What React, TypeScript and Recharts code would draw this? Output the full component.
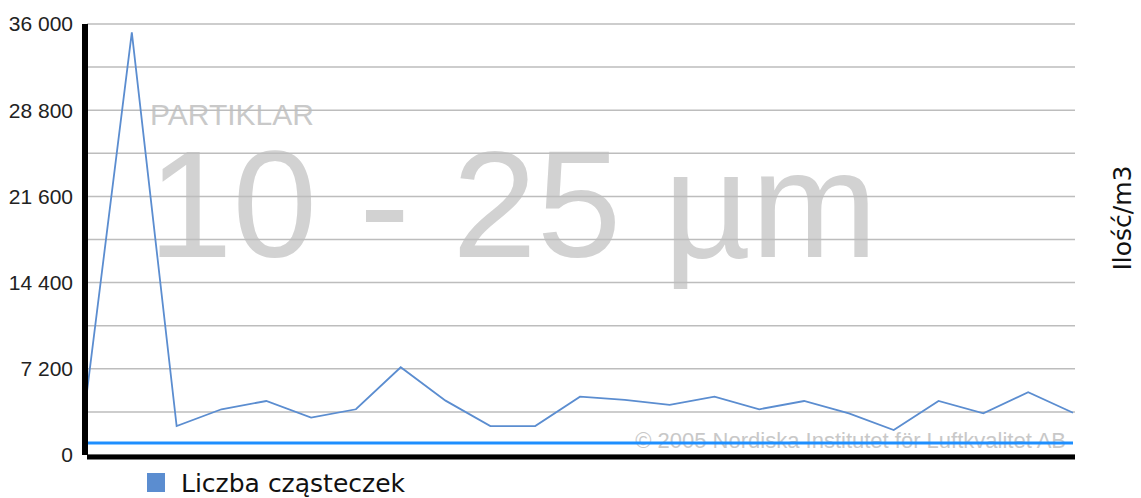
import React from 'react';
import { LineChart, Line, XAxis, YAxis, CartesianGrid, ReferenceLine } from 'recharts';

const categories = ['1', '2', '3', '4', '5', '6', '7', '8', '9', '10', '11', '12', '13', '14', '15', '16', '17', '18', '19', '20', '21', '22', '23'];
const counts = [5300, 35300, 2420, 3820, 4510, 3120, 3820, 7330, 4540, 2420, 2420, 4870, 4600, 4180, 4870, 3820, 4510, 3480, 2090, 4510, 3480, 5240, 3530];
const thresholdValue = 1000;
const yTicks = [0, 3600, 7200, 10800, 14400, 18000, 21600, 25200, 28800, 32400, 36000];
const labelStep = 7200;
const seriesName = 'Liczba cząsteczek';
const unitLabel = 'Ilość/m3';
const watermarkTitle = 'PARTIKLAR';
const watermarkRange = '10 - 25 µm';
const copyrightText = '© 2005 Nordiska Institutet för Luftkvalitet AB';

const data = categories.map((c, i) => ({ cat: c, count: counts[i] }));

const LINE_COLOR = '#5b8dd0';
const fmt = (v: number) => (v % labelStep === 0 ? String(v).replace(/\B(?=(\d{3})+(?!\d))/g, ' ') : '');

export default function App() {
  return (
    <div style={{ position: 'absolute', left: 0, top: 0, width: 1141, height: 498, background: '#fff' }}>
      <svg width={1141} height={498} style={{ position: 'absolute', left: 0, top: 0 }}>
        <text x={150} y={125} fontSize={30} fontFamily="Liberation Sans, Arial, sans-serif" fill="#c9c9c9">
          {watermarkTitle}
        </text>
        <text x={148} y={257} fontSize={152} fontFamily="Liberation Sans, Arial, sans-serif" fill="#d2d2d2">
          {watermarkRange}
        </text>
        <text x={1066} y={448} fontSize={22} textAnchor="end" fontFamily="Liberation Sans, Arial, sans-serif" fill="#c8c8c8">
          {copyrightText}
        </text>
      </svg>
      <div style={{ position: 'absolute', left: 0, top: 0 }}>
        <LineChart width={1141} height={498} data={data} margin={{ top: 24, right: 66, bottom: 38, left: 0 }}>
          <CartesianGrid vertical={false} stroke="#bdbdbd" strokeWidth={1.5} />
          <XAxis
            dataKey="cat"
            padding={{ left: 0, right: 2 }}
            tick={false}
            tickLine={false}
            height={5}
            axisLine={{ stroke: '#000', strokeWidth: 5, transform: 'translate(0,2)' }}
          />
          <YAxis
            domain={[0, 36000]}
            ticks={yTicks}
            interval={0}
            width={87}
            tickSize={0}
            tickMargin={14}
            tickLine={false}
            axisLine={{ stroke: '#000', strokeWidth: 6, transform: 'translate(-2,0)' }}
            tickFormatter={fmt}
            tick={{ fill: '#222', fontSize: 21, fontFamily: 'Liberation Sans, Arial, sans-serif' }}
          />
          <ReferenceLine
            segment={[{ x: categories[0], y: thresholdValue }, { x: categories[categories.length - 1], y: thresholdValue }]}
            stroke="#1e8fff"
            strokeWidth={3}
          />
          <Line
            type="linear"
            dataKey="count"
            name={seriesName}
            stroke={LINE_COLOR}
            strokeWidth={1.8}
            dot={false}
            activeDot={false}
            isAnimationActive={false}
          />
        </LineChart>
      </div>
      <svg width={1141} height={498} style={{ position: 'absolute', left: 0, top: 0, pointerEvents: 'none' }}>
        <rect x={147} y={473} width={18} height={19} fill={LINE_COLOR} />
        <text x={181} y={492} fontSize={25} fontFamily="DejaVu Sans, sans-serif" fill="#111">
          {seriesName}
        </text>
        <text
          x={1131}
          y={218}
          fontSize={25}
          textAnchor="middle"
          fontFamily="DejaVu Sans, sans-serif"
          fill="#111"
          transform="rotate(-90 1131 218)"
        >
          {unitLabel}
        </text>
      </svg>
    </div>
  );
}
